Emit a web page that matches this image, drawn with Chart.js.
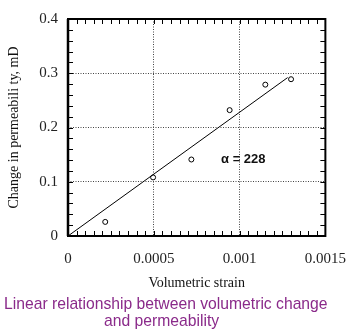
<!DOCTYPE html>
<html><head><meta charset="utf-8">
<script src="https://cdn.jsdelivr.net/npm/chart.js@4/dist/chart.umd.min.js"></script>
<style>
html,body{margin:0;padding:0;background:#fff;}
#wrap{position:relative;width:360px;height:330px;}
canvas{position:absolute;left:0;top:0;}
.cap{position:absolute;font-family:"Liberation Sans",Arial,sans-serif;font-size:15.7px;color:#8a2a8a;white-space:nowrap;line-height:18px;}
</style></head>
<body><div id="wrap"><canvas id="c" width="360" height="330"></canvas>
<div class="cap" id="cap1" style="left:4px;top:295px;">Linear relationship between volumetric change</div>
<div class="cap" id="cap2" style="left:104px;top:312px;">and permeability</div>
</div>
<script>
const strainValues = [0.000217, 0.000496, 0.000719, 0.000942, 0.00115, 0.0013];
const permChange   = [0.026, 0.108, 0.141, 0.232, 0.279, 0.289];
const fitStrain    = [0, 0.00128];
const fitPerm      = [0, 0.292];
const xTickLabels  = {0: "0", 0.0005: "0.0005", 0.001: "0.001", 0.0015: "0.0015"};
const yTickLabels  = {0: "0", 0.1: "0.1", 0.2: "0.2", 0.3: "0.3", 0.4: "0.4"};
const alphaLabel   = "\u03B1 = 228";
const alphaAt      = [0.000892, 0.141];

const frame = {
  id: 'frame',
  afterDraw(chart) {
    const {ctx, chartArea: a, scales: {x, y}} = chart;
    ctx.save();
    ctx.strokeStyle = '#000';
    ctx.lineWidth = 1;
    const tl = 5;
    for (let i = 1; i < 30; i++) {
      const px = Math.round(x.getPixelForValue(i * 0.00005)) + 0.5;
      ctx.beginPath();
      ctx.moveTo(px, a.bottom); ctx.lineTo(px, a.bottom - tl);
      ctx.moveTo(px, a.top); ctx.lineTo(px, a.top + tl);
      ctx.stroke();
    }
    for (let i = 1; i < 20; i++) {
      const py = Math.round(y.getPixelForValue(i * 0.02)) + 0.5;
      ctx.beginPath();
      ctx.moveTo(a.left, py); ctx.lineTo(a.left + tl, py);
      ctx.moveTo(a.right, py); ctx.lineTo(a.right - tl, py);
      ctx.stroke();
    }
    ctx.lineWidth = 2;
    ctx.strokeRect(a.left, a.top, a.right - a.left, a.bottom - a.top);
    ctx.lineWidth = 2.5;
    ctx.beginPath(); ctx.moveTo(a.left, a.top); ctx.lineTo(a.left, a.bottom); ctx.stroke();
    ctx.fillStyle = '#111';
    ctx.font = 'bold 13px "Liberation Sans", Arial, sans-serif';
    ctx.textBaseline = 'middle';
    ctx.textAlign = 'left';
    ctx.fillText(alphaLabel, x.getPixelForValue(alphaAt[0]), y.getPixelForValue(alphaAt[1]));
    ctx.restore();
  }
};

const gridColor = (ctx) => {
  const v = ctx.tick && ctx.tick.value;
  const s = ctx.scale;
  return (v === undefined || Math.abs(v - s.min) < 1e-12 || Math.abs(v - s.max) < 1e-12) ? 'rgba(0,0,0,0)' : '#444';
};

new Chart(document.getElementById('c'), {
  type: 'scatter',
  data: {
    datasets: [
      {
        data: fitStrain.map((v, i) => ({x: v, y: fitPerm[i]})),
        showLine: true, borderColor: '#000', borderWidth: 1, pointRadius: 0, fill: false
      },
      {
        data: strainValues.map((v, i) => ({x: v, y: permChange[i]})),
        showLine: false, pointRadius: 2.5, pointBorderWidth: 1,
        pointBorderColor: '#000', pointBackgroundColor: '#fff'
      }
    ]
  },
  options: {
    animation: false, responsive: false, devicePixelRatio: 1,
    layout: {padding: {left: 0, right: 23, top: 9, bottom: 0}},
    plugins: {legend: {display: false}, tooltip: {enabled: false}},
    scales: {
      x: {
        type: 'linear', min: 0, max: 0.0015,
        afterFit(s) { s.height = 94; },
        border: {display: false, dash: [1, 1.5]},
        grid: {color: gridColor, lineWidth: 1, drawTicks: false},
        ticks: {stepSize: 0.0005, padding: 14, color: '#222', maxRotation: 0,
          font: {family: '"Liberation Serif", "Times New Roman", serif', size: 15},
          callback: (v) => xTickLabels[+v.toFixed(4)] ?? ''},
        title: {display: true, text: 'Volumetric strain', color: '#111',
          font: {family: '"Liberation Serif", "Times New Roman", serif', size: 14},
          padding: {top: 0, bottom: 38}}
      },
      y: {
        type: 'linear', min: 0, max: 0.4,
        afterFit(s) { s.width = 68; },
        border: {display: false, dash: [1, 1.5]},
        grid: {color: gridColor, lineWidth: 1, drawTicks: false},
        ticks: {stepSize: 0.1, padding: 10, color: '#222',
          font: {family: '"Liberation Serif", "Times New Roman", serif', size: 15},
          callback: (v) => yTickLabels[+v.toFixed(1)] ?? ''},
        title: {display: true, text: 'Change in permeabili ty, mD', color: '#111',
          font: {family: '"Liberation Serif", "Times New Roman", serif', size: 14},
          padding: {top: 6, bottom: 0}}
      }
    }
  },
  plugins: [frame]
});
</script></body></html>
